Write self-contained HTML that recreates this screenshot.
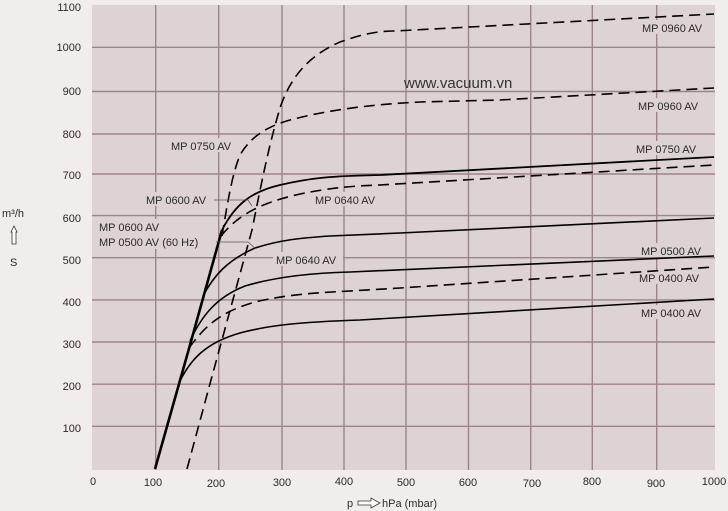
<!DOCTYPE html>
<html><head><meta charset="utf-8"><style>
html,body{margin:0;padding:0;background:#f1edec;}
svg{display:block;}
text{font-family:"Liberation Sans",sans-serif;fill:#2a2a2a;font-size:11px;}
</style></head><body>
<svg width="728" height="511" viewBox="0 0 728 511" xmlns="http://www.w3.org/2000/svg">
<rect x="0" y="0" width="728" height="511" fill="#f1edec"/>
<rect x="92" y="5" width="623" height="465" fill="#ddd3d5"/>
<g stroke="#9c8489" stroke-width="1.4">
<line x1="155.7" y1="5" x2="155.7" y2="470"/><line x1="218.7" y1="5" x2="218.7" y2="470"/>
<line x1="282" y1="5" x2="282" y2="470"/><line x1="344" y1="5" x2="344" y2="470"/>
<line x1="406" y1="5" x2="406" y2="470"/><line x1="468.5" y1="5" x2="468.5" y2="470"/>
<line x1="530.7" y1="5" x2="530.7" y2="470"/><line x1="592.3" y1="5" x2="592.3" y2="470"/>
<line x1="656.7" y1="5" x2="656.7" y2="470"/>
<line x1="92" y1="426.3" x2="715" y2="426.3"/><line x1="92" y1="384.2" x2="715" y2="384.2"/>
<line x1="92" y1="342" x2="715" y2="342"/><line x1="92" y1="299.9" x2="715" y2="299.9"/>
<line x1="92" y1="257.7" x2="715" y2="257.7"/><line x1="92" y1="215.6" x2="715" y2="215.6"/>
<line x1="92" y1="174" x2="715" y2="174"/><line x1="92" y1="134" x2="715" y2="134"/>
<line x1="92" y1="91.5" x2="715" y2="91.5"/><line x1="92" y1="47.3" x2="715" y2="47.3"/>
</g>
<g fill="#ddd3d5">
<rect x="640" y="20" width="72" height="14"/><rect x="636" y="98" width="74" height="14"/>
<rect x="634" y="141" width="74" height="14"/><rect x="312" y="192" width="70" height="14"/>
<rect x="168" y="138" width="74" height="14"/><rect x="143" y="192" width="72" height="14"/>
<rect x="96" y="219" width="120" height="30"/><rect x="273" y="252" width="70" height="14"/>
<rect x="638" y="243" width="70" height="14"/><rect x="636" y="270" width="70" height="14"/>
<rect x="638" y="305" width="70" height="14"/>
</g>
<g fill="none" stroke="#000" stroke-linecap="butt">
<path d="M155,469 L190,345 L222,230" stroke-width="2.6"/>
<path d="M222,230 C235,205 250,192 280,185 C310,178 330,176 380,175 L714,157" stroke-width="1.8"/>
<path d="M203,296 C214,275 228,260 255,248 C280,240 300,238 330,236 L400,233 L714,218" stroke-width="1.6"/>
<path d="M190,341 C202,315 217,297 245,286 C275,277 310,273 350,272 L714,256" stroke-width="1.6"/>
<path d="M179,383 C190,360 205,343 240,333 C270,325 300,322 360,320 L714,299" stroke-width="1.6"/>
<g stroke-dasharray="11,6" stroke-width="1.6">
<path d="M221,236 C238,215 260,203 300,194 C330,188 350,186 380,185 L714,165"/>
<path d="M189,348 C205,326 220,312 255,302 C285,295 310,293 350,291 L400,288 L714,267"/>
<path d="M187,469 L211,380 L252,230 C262,180 270,140 281,105 C292,75 310,55 340,42 C360,35 375,31 395,31 L714,14"/>
<path d="M222,236 C228,200 232,175 240,155 C250,138 265,127 290,120 C320,112 360,105 420,102 L500,100 L714,88"/>
</g>
</g>
<g stroke="#555" stroke-width="0.8" fill="none">
<line x1="214" y1="200" x2="248" y2="200"/><line x1="248" y1="200" x2="252" y2="206"/>
<line x1="216" y1="242" x2="248" y2="242"/><line x1="248" y1="242" x2="256" y2="249"/>
</g>
<text x="404" y="88" style="font-size:15px;fill:#333">www.vacuum.vn</text>
<text x="642" y="32">MP 0960 AV</text>
<text x="638" y="110">MP 0960 AV</text>
<text x="636" y="153">MP 0750 AV</text>
<text x="315" y="204">MP 0640 AV</text>
<text x="171" y="150">MP 0750 AV</text>
<text x="146" y="204">MP 0600 AV</text>
<text x="99" y="231">MP 0600 AV</text>
<text x="99" y="246">MP 0500 AV (60 Hz)</text>
<text x="276" y="264">MP 0640 AV</text>
<text x="641" y="255">MP 0500 AV</text>
<text x="639" y="282">MP 0400 AV</text>
<text x="641" y="317">MP 0400 AV</text>
<g text-anchor="end">
<text x="81" y="11">1100</text><text x="81" y="51">1000</text><text x="81" y="95">900</text>
<text x="81" y="138">800</text><text x="81" y="179">700</text><text x="81" y="222">600</text>
<text x="81" y="264">500</text><text x="81" y="306">400</text><text x="81" y="348">300</text>
<text x="81" y="390">200</text><text x="81" y="432">100</text>
</g>
<g text-anchor="middle">
<text x="93" y="485">0</text><text x="153" y="486">100</text><text x="216" y="487">200</text>
<text x="282" y="486">300</text><text x="344" y="485">400</text><text x="406" y="486">500</text>
<text x="468" y="486">600</text><text x="532" y="487">700</text><text x="592" y="485">800</text>
<text x="656" y="487">900</text><text x="714" y="485">1000</text>
</g>
<text x="2" y="217">m³/h</text>
<path d="M11,232 L14,226 L17,232 L16,232 L16,244 L12,244 L12,232 Z" fill="#fff" stroke="#333" stroke-width="0.8"/>
<text x="10" y="266">S</text>
<text x="347" y="507">p</text>
<path d="M358,501 L371,501 L371,498 L380,503 L371,508 L371,505 L358,505 Z" fill="#fff" stroke="#333" stroke-width="0.8"/>
<text x="382" y="507">hPa (mbar)</text>
</svg>
</body></html>
